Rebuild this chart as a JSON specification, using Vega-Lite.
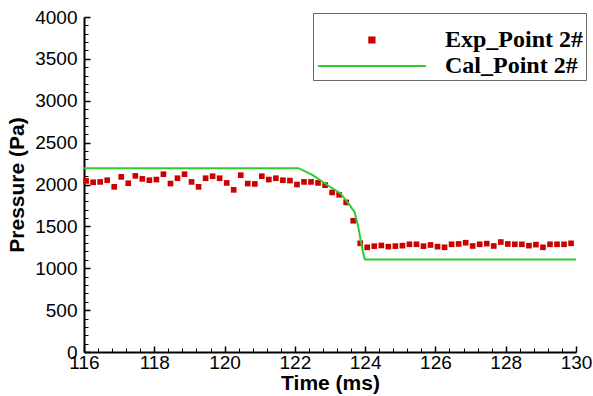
{
  "$schema": "https://vega.github.io/schema/vega-lite/v6.json",
  "width": 492,
  "height": 335,
  "autosize": {"type": "none"},
  "padding": {"left": 84, "top": 17, "right": 17, "bottom": 44},
  "background": "white",
  "config": {"view": {"stroke": null}},
  "datasets": {
    "exp": [
      {"t": 116.06, "p": 2043, "series": "Exp_Point 2#"},
      {"t": 116.26, "p": 2027, "series": "Exp_Point 2#"},
      {"t": 116.46, "p": 2031, "series": "Exp_Point 2#"},
      {"t": 116.66, "p": 2051, "series": "Exp_Point 2#"},
      {"t": 116.86, "p": 1972, "series": "Exp_Point 2#"},
      {"t": 117.06, "p": 2091, "series": "Exp_Point 2#"},
      {"t": 117.26, "p": 2015, "series": "Exp_Point 2#"},
      {"t": 117.46, "p": 2103, "series": "Exp_Point 2#"},
      {"t": 117.66, "p": 2067, "series": "Exp_Point 2#"},
      {"t": 117.86, "p": 2051, "series": "Exp_Point 2#"},
      {"t": 118.06, "p": 2059, "series": "Exp_Point 2#"},
      {"t": 118.26, "p": 2123, "series": "Exp_Point 2#"},
      {"t": 118.46, "p": 2011, "series": "Exp_Point 2#"},
      {"t": 118.66, "p": 2075, "series": "Exp_Point 2#"},
      {"t": 118.86, "p": 2123, "series": "Exp_Point 2#"},
      {"t": 119.06, "p": 2031, "series": "Exp_Point 2#"},
      {"t": 119.26, "p": 1972, "series": "Exp_Point 2#"},
      {"t": 119.46, "p": 2075, "series": "Exp_Point 2#"},
      {"t": 119.66, "p": 2099, "series": "Exp_Point 2#"},
      {"t": 119.86, "p": 2075, "series": "Exp_Point 2#"},
      {"t": 120.06, "p": 2019, "series": "Exp_Point 2#"},
      {"t": 120.26, "p": 1936, "series": "Exp_Point 2#"},
      {"t": 120.46, "p": 2111, "series": "Exp_Point 2#"},
      {"t": 120.66, "p": 2011, "series": "Exp_Point 2#"},
      {"t": 120.86, "p": 2007, "series": "Exp_Point 2#"},
      {"t": 121.06, "p": 2099, "series": "Exp_Point 2#"},
      {"t": 121.26, "p": 2059, "series": "Exp_Point 2#"},
      {"t": 121.46, "p": 2075, "series": "Exp_Point 2#"},
      {"t": 121.66, "p": 2051, "series": "Exp_Point 2#"},
      {"t": 121.86, "p": 2047, "series": "Exp_Point 2#"},
      {"t": 122.06, "p": 2000, "series": "Exp_Point 2#"},
      {"t": 122.26, "p": 2031, "series": "Exp_Point 2#"},
      {"t": 122.46, "p": 2031, "series": "Exp_Point 2#"},
      {"t": 122.66, "p": 2019, "series": "Exp_Point 2#"},
      {"t": 122.86, "p": 1992, "series": "Exp_Point 2#"},
      {"t": 123.06, "p": 1905, "series": "Exp_Point 2#"},
      {"t": 123.26, "p": 1877, "series": "Exp_Point 2#"},
      {"t": 123.46, "p": 1786, "series": "Exp_Point 2#"},
      {"t": 123.66, "p": 1567, "series": "Exp_Point 2#"},
      {"t": 123.86, "p": 1298, "series": "Exp_Point 2#"},
      {"t": 124.06, "p": 1250, "series": "Exp_Point 2#"},
      {"t": 124.26, "p": 1264, "series": "Exp_Point 2#"},
      {"t": 124.46, "p": 1272, "series": "Exp_Point 2#"},
      {"t": 124.66, "p": 1258, "series": "Exp_Point 2#"},
      {"t": 124.86, "p": 1264, "series": "Exp_Point 2#"},
      {"t": 125.06, "p": 1270, "series": "Exp_Point 2#"},
      {"t": 125.26, "p": 1286, "series": "Exp_Point 2#"},
      {"t": 125.46, "p": 1286, "series": "Exp_Point 2#"},
      {"t": 125.66, "p": 1264, "series": "Exp_Point 2#"},
      {"t": 125.86, "p": 1278, "series": "Exp_Point 2#"},
      {"t": 126.06, "p": 1258, "series": "Exp_Point 2#"},
      {"t": 126.26, "p": 1250, "series": "Exp_Point 2#"},
      {"t": 126.46, "p": 1286, "series": "Exp_Point 2#"},
      {"t": 126.66, "p": 1290, "series": "Exp_Point 2#"},
      {"t": 126.86, "p": 1305, "series": "Exp_Point 2#"},
      {"t": 127.06, "p": 1266, "series": "Exp_Point 2#"},
      {"t": 127.26, "p": 1286, "series": "Exp_Point 2#"},
      {"t": 127.46, "p": 1294, "series": "Exp_Point 2#"},
      {"t": 127.66, "p": 1266, "series": "Exp_Point 2#"},
      {"t": 127.86, "p": 1313, "series": "Exp_Point 2#"},
      {"t": 128.06, "p": 1290, "series": "Exp_Point 2#"},
      {"t": 128.26, "p": 1286, "series": "Exp_Point 2#"},
      {"t": 128.46, "p": 1286, "series": "Exp_Point 2#"},
      {"t": 128.66, "p": 1270, "series": "Exp_Point 2#"},
      {"t": 128.86, "p": 1282, "series": "Exp_Point 2#"},
      {"t": 129.06, "p": 1250, "series": "Exp_Point 2#"},
      {"t": 129.26, "p": 1286, "series": "Exp_Point 2#"},
      {"t": 129.46, "p": 1286, "series": "Exp_Point 2#"},
      {"t": 129.66, "p": 1286, "series": "Exp_Point 2#"},
      {"t": 129.86, "p": 1298, "series": "Exp_Point 2#"}
    ],
    "cal": [
      {"t": 116.0, "p": 2195, "series": "Cal_Point 2#"},
      {"t": 122.1, "p": 2195, "series": "Cal_Point 2#"},
      {"t": 122.5, "p": 2114, "series": "Cal_Point 2#"},
      {"t": 122.9, "p": 2000, "series": "Cal_Point 2#"},
      {"t": 123.3, "p": 1893, "series": "Cal_Point 2#"},
      {"t": 123.55, "p": 1760, "series": "Cal_Point 2#"},
      {"t": 123.7, "p": 1670, "series": "Cal_Point 2#"},
      {"t": 123.8, "p": 1503, "series": "Cal_Point 2#"},
      {"t": 123.88, "p": 1317, "series": "Cal_Point 2#"},
      {"t": 123.97, "p": 1131, "series": "Cal_Point 2#"},
      {"t": 124.0, "p": 1105, "series": "Cal_Point 2#"},
      {"t": 130.0, "p": 1105, "series": "Cal_Point 2#"}
    ]
  },
  "layer": [
    {
      "data": {"name": "exp"},
      "mark": {"type": "square", "size": 32, "opacity": 1},
      "encoding": {
        "x": {
          "field": "t", "type": "quantitative",
          "scale": {"domain": [116, 130], "nice": false, "zero": false},
          "axis": {
            "orient": "bottom",
            "values": [116, 118, 120, 122, 124, 126, 128, 130],
            "format": "d", "grid": false,
            "tickSize": -6, "tickWidth": 1.5, "tickColor": "black",
            "domainColor": "black", "domainWidth": 2,
            "labelFont": "Liberation Sans", "labelFontSize": 19, "labelColor": "black",
            "labelPadding": 7, "labelFlush": false, "labelOverlap": false,
            "title": "Time (ms)", "titleFont": "Liberation Sans", "titleFontSize": 21,
            "titleFontWeight": "bold", "titleColor": "black", "titlePadding": 0
          }
        },
        "y": {
          "field": "p", "type": "quantitative",
          "scale": {"domain": [0, 4000], "nice": false},
          "axis": {
            "orient": "left",
            "values": [0, 500, 1000, 1500, 2000, 2500, 3000, 3500, 4000],
            "format": "d", "grid": false,
            "tickSize": -6, "tickWidth": 1.5, "tickColor": "black",
            "domainColor": "black", "domainWidth": 2,
            "labelFont": "Liberation Sans", "labelFontSize": 19, "labelColor": "black",
            "labelPadding": 13, "labelFlush": false, "labelOverlap": false,
            "title": "Pressure (Pa)", "titleFont": "Liberation Sans", "titleFontSize": 21,
            "titleFontWeight": "bold", "titleColor": "black", "titlePadding": 7
          }
        },
        "color": {
          "field": "series", "type": "nominal",
          "scale": {"domain": ["Exp_Point 2#", "Cal_Point 2#"], "range": ["#cc0000", "#2ecc2e"]},
          "legend": {
            "orient": "none", "legendX": 229, "legendY": -4,
            "title": " ", "titleFontSize": 8, "titlePadding": 3,
            "direction": "vertical",
            "symbolSize": 676, "symbolType": "M-0.85,0H7.46", "symbolStrokeWidth": 2,
            "labelFont": "Liberation Serif", "labelFontSize": 24, "labelFontWeight": "bold",
            "labelColor": "black", "labelOffset": 102, "rowPadding": 0, "padding": 2,
            "strokeColor": "#666666", "fillColor": "white",
            "encode": {
              "symbols": {
                "update": {
                  "shape": {"signal": "datum.value === 'Exp_Point 2#' ? 'M3.1,-0.2H3.5V0.2H3.1Z' : 'M-0.85,0H7.46'"},
                  "fill": {"signal": "datum.value === 'Exp_Point 2#' ? '#cc0000' : 'transparent'"},
                  "stroke": {"signal": "datum.value === 'Exp_Point 2#' ? 'transparent' : '#2ecc2e'"},
                  "strokeWidth": {"value": 2},
                  "opacity": {"value": 1}
                }
              }
            }
          }
        }
      }
    },
    {
      "data": {"name": "cal"},
      "mark": {"type": "line", "strokeWidth": 2},
      "encoding": {
        "x": {"field": "t", "type": "quantitative", "axis": null},
        "y": {"field": "p", "type": "quantitative", "axis": null},
        "color": {
          "field": "series", "type": "nominal",
          "legend": {
            "orient": "none", "legendX": 229, "legendY": -4,
            "title": " ", "titleFontSize": 8, "titlePadding": 3,
            "direction": "vertical",
            "symbolSize": 676, "symbolType": "M-0.85,0H7.46", "symbolStrokeWidth": 2,
            "labelFont": "Liberation Serif", "labelFontSize": 24, "labelFontWeight": "bold",
            "labelColor": "black", "labelOffset": 102, "rowPadding": 0, "padding": 2,
            "strokeColor": "#666666", "fillColor": "white",
            "encode": {
              "symbols": {
                "update": {
                  "shape": {"signal": "datum.value === 'Exp_Point 2#' ? 'M3.1,-0.2H3.5V0.2H3.1Z' : 'M-0.85,0H7.46'"},
                  "fill": {"signal": "datum.value === 'Exp_Point 2#' ? '#cc0000' : 'transparent'"},
                  "stroke": {"signal": "datum.value === 'Exp_Point 2#' ? 'transparent' : '#2ecc2e'"},
                  "strokeWidth": {"value": 2},
                  "opacity": {"value": 1}
                }
              }
            }
          }
        }
      }
    },
    {
      "data": {"name": "cal"},
      "mark": {"type": "point", "opacity": 0},
      "encoding": {
        "x": {
          "field": "t", "type": "quantitative",
          "axis": {
            "orient": "bottom",
            "values": [116.4, 116.8, 117.2, 117.6, 118.4, 118.8, 119.2, 119.6, 120.4, 120.8, 121.2, 121.6, 122.4, 122.8, 123.2, 123.6, 124.4, 124.8, 125.2, 125.6, 126.4, 126.8, 127.2, 127.6, 128.4, 128.8, 129.2, 129.6],
            "domain": false, "labels": false, "grid": false, "title": null,
            "tickSize": -4, "tickWidth": 1, "tickColor": "black"
          }
        },
        "y": {
          "field": "p", "type": "quantitative",
          "axis": {
            "orient": "left",
            "values": [100, 200, 300, 400, 600, 700, 800, 900, 1100, 1200, 1300, 1400, 1600, 1700, 1800, 1900, 2100, 2200, 2300, 2400, 2600, 2700, 2800, 2900, 3100, 3200, 3300, 3400, 3600, 3700, 3800, 3900],
            "domain": false, "labels": false, "grid": false, "title": null,
            "tickSize": -4, "tickWidth": 1, "tickColor": "black"
          }
        }
      }
    }
  ],
  "resolve": {"axis": {"x": "independent", "y": "independent"}}
}
